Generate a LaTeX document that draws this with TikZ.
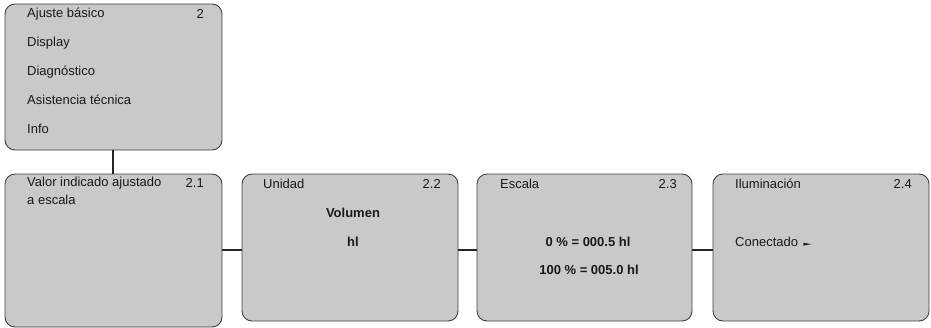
\documentclass[tikz,border=0pt]{standalone}
\usepackage{fontspec}
\setmainfont{Liberation Sans}
\begin{document}
\begin{tikzpicture}[x=1pt,y=-1pt,
  menubox/.style={draw=black!75, line width=0.9pt, fill=boxgrey, rounded corners=10pt},
  txt/.style={inner sep=0pt, anchor=west, font=\fontsize{13}{15}\selectfont, text=black!90},
  num/.style={inner sep=0pt, anchor=east, font=\fontsize{13}{15}\selectfont, text=black!90},
  btxt/.style={inner sep=0pt, anchor=center, font=\fontsize{13}{15}\selectfont\bfseries, text=black!90},
  link/.style={draw=black!85, line width=2pt}]
\definecolor{boxgrey}{RGB}{200,201,203}
\useasboundingbox (0,0) rectangle (931,327);
% boxes
\path[menubox] (5,4) rectangle (222,150);
\coordinate (topb) at (113,150);
\path[menubox] (5,174) rectangle (222,327);
\coordinate (b1t) at (113,174);
\coordinate (b1r) at (222,250);
\path[menubox] (242,174) rectangle (458,321);
\coordinate (b2l) at (242,250);
\coordinate (b2r) at (458,250);
\path[menubox] (477,174) rectangle (692,321);
\coordinate (b3l) at (477,250);
\coordinate (b3r) at (692,250);
\path[menubox] (713,174) rectangle (929,321);
\coordinate (b4l) at (713,250);
% connectors
\draw[link] (topb) -- (b1t);
\draw[link] (b1r) -- (b2l);
\draw[link] (b2r) -- (b3l);
\draw[link] (b3r) -- (b4l);
% top menu
\node[txt] (m1) at (27,14) {Ajuste básico};
\node[num] (m1n) at (204,14) {2};
\node[txt] (m2) at (27,43) {Display};
\node[txt] (m3) at (27,72) {Diagnóstico};
\node[txt] (m4) at (27,100) {Asistencia técnica};
\node[txt] (m5) at (27,129) {Info};
% 2.1
\node[txt] (a1) at (27,183) {Valor indicado ajustado};
\node[txt] (a2) at (27,200) {a escala};
\node[num] (an) at (204,183) {2.1};
% 2.2
\node[txt] (u1) at (263,184) {Unidad};
\node[num] (un) at (441,184) {2.2};
\node[btxt] (u2) at (353,213) {Volumen};
\node[btxt] (u3) at (353,242) {hl};
% 2.3
\node[txt] (e1) at (500,184) {Escala};
\node[num] (en) at (677,184) {2.3};
\node[btxt] (e2) at (588,242) {0 \% = 000.5 hl};
\node[btxt] (e3) at (589,270) {100 \% = 005.0 hl};
% 2.4
\node[txt] (i2) at (735,242) {Conectado};
\node[txt] (i1) at (735,184) {Iluminación};
\node[num] (in) at (912,184) {2.4};
\fill[black!85] ([xshift=5pt,yshift=4pt]i2.base east) -- ++(8,1.5) -- ++(-8,1.5) -- cycle;
\end{tikzpicture}
\end{document}
